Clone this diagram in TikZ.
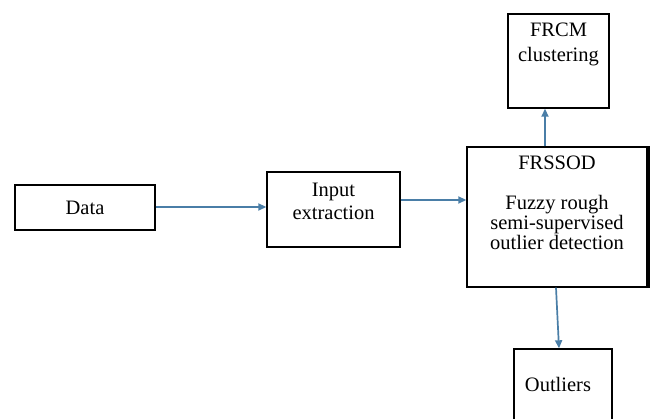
\documentclass[tikz,border=0pt]{standalone}
\usepackage{fontspec}
\setmainfont{Liberation Serif}
\usetikzlibrary{arrows.meta,positioning,calc}

\definecolor{flowblue}{RGB}{74,126,167}

\begin{document}
\begin{tikzpicture}[
  x=1pt,y=-1pt,
  box/.style={draw,line width=1.4pt,minimum width=#1},
  txt/.style={align=center,inner sep=0pt,font=\fontsize{20.5}{20}\selectfont},
  arr/.style={-{Triangle[length=8pt,width=7pt]},line width=1.7pt,flowblue}
]
  \clip (0,0) rectangle (650,419);
  \fill[white] (0,0) rectangle (650,419);

  % Boxes: Data left, Input extraction middle, FRSSOD right, FRCM on top, Outliers below
  \node[box=140pt,minimum height=45pt,txt] (data)  at (85,207.5) {Data};
  \node[box=133pt,minimum height=75pt]     (input) at (333.5,209.5) {};
  \node[box=180pt,minimum height=140pt]    (frssod) at (557,217) {};
  \node[box=101pt,minimum height=94pt]     (frcm)  at (558.5,61) {};
  \node[box=98pt,minimum height=82pt]      (outl)  at (563,390) {};

  % thick right edge of FRSSOD
  \draw[line width=4pt] (frssod.north east) -- (frssod.south east);

  % Texts
  \node[txt] (inputtxt)  at ([yshift=8pt]input.center) {Input\\[3pt]extraction};
  \node[txt] (frcmtxt)   at ([yshift=16.5pt]frcm.center) {FRCM\\[5pt]clustering};
  \node[txt] (frssodtxt) at ([yshift=14pt]frssod.center)
    {FRSSOD\\[20pt]Fuzzy rough\\semi-supervised\\outlier detection};
  \node[txt] (outltxt)   at ([xshift=-5pt,yshift=-36pt]outl.north) {Outliers};

  % Data -> Input extraction
  \draw[arr] ([yshift=0.5pt]data.east) -- ([yshift=0.5pt]data.east -| input.west);

  % Input extraction -> FRSSOD
  \draw[arr] ([yshift=9.5pt]input.east) -- ([yshift=9.5pt]input.east -| frssod.west);

  % FRSSOD -> FRCM clustering
  \draw[arr] ([xshift=-12pt]frssod.north) -- ([xshift=-12pt]frssod.north |- frcm.south);

  % FRSSOD -> Outliers
  \draw[arr] ([xshift=-1pt]frssod.south) -- ([xshift=-4pt]outl.north);
\end{tikzpicture}
\end{document}
